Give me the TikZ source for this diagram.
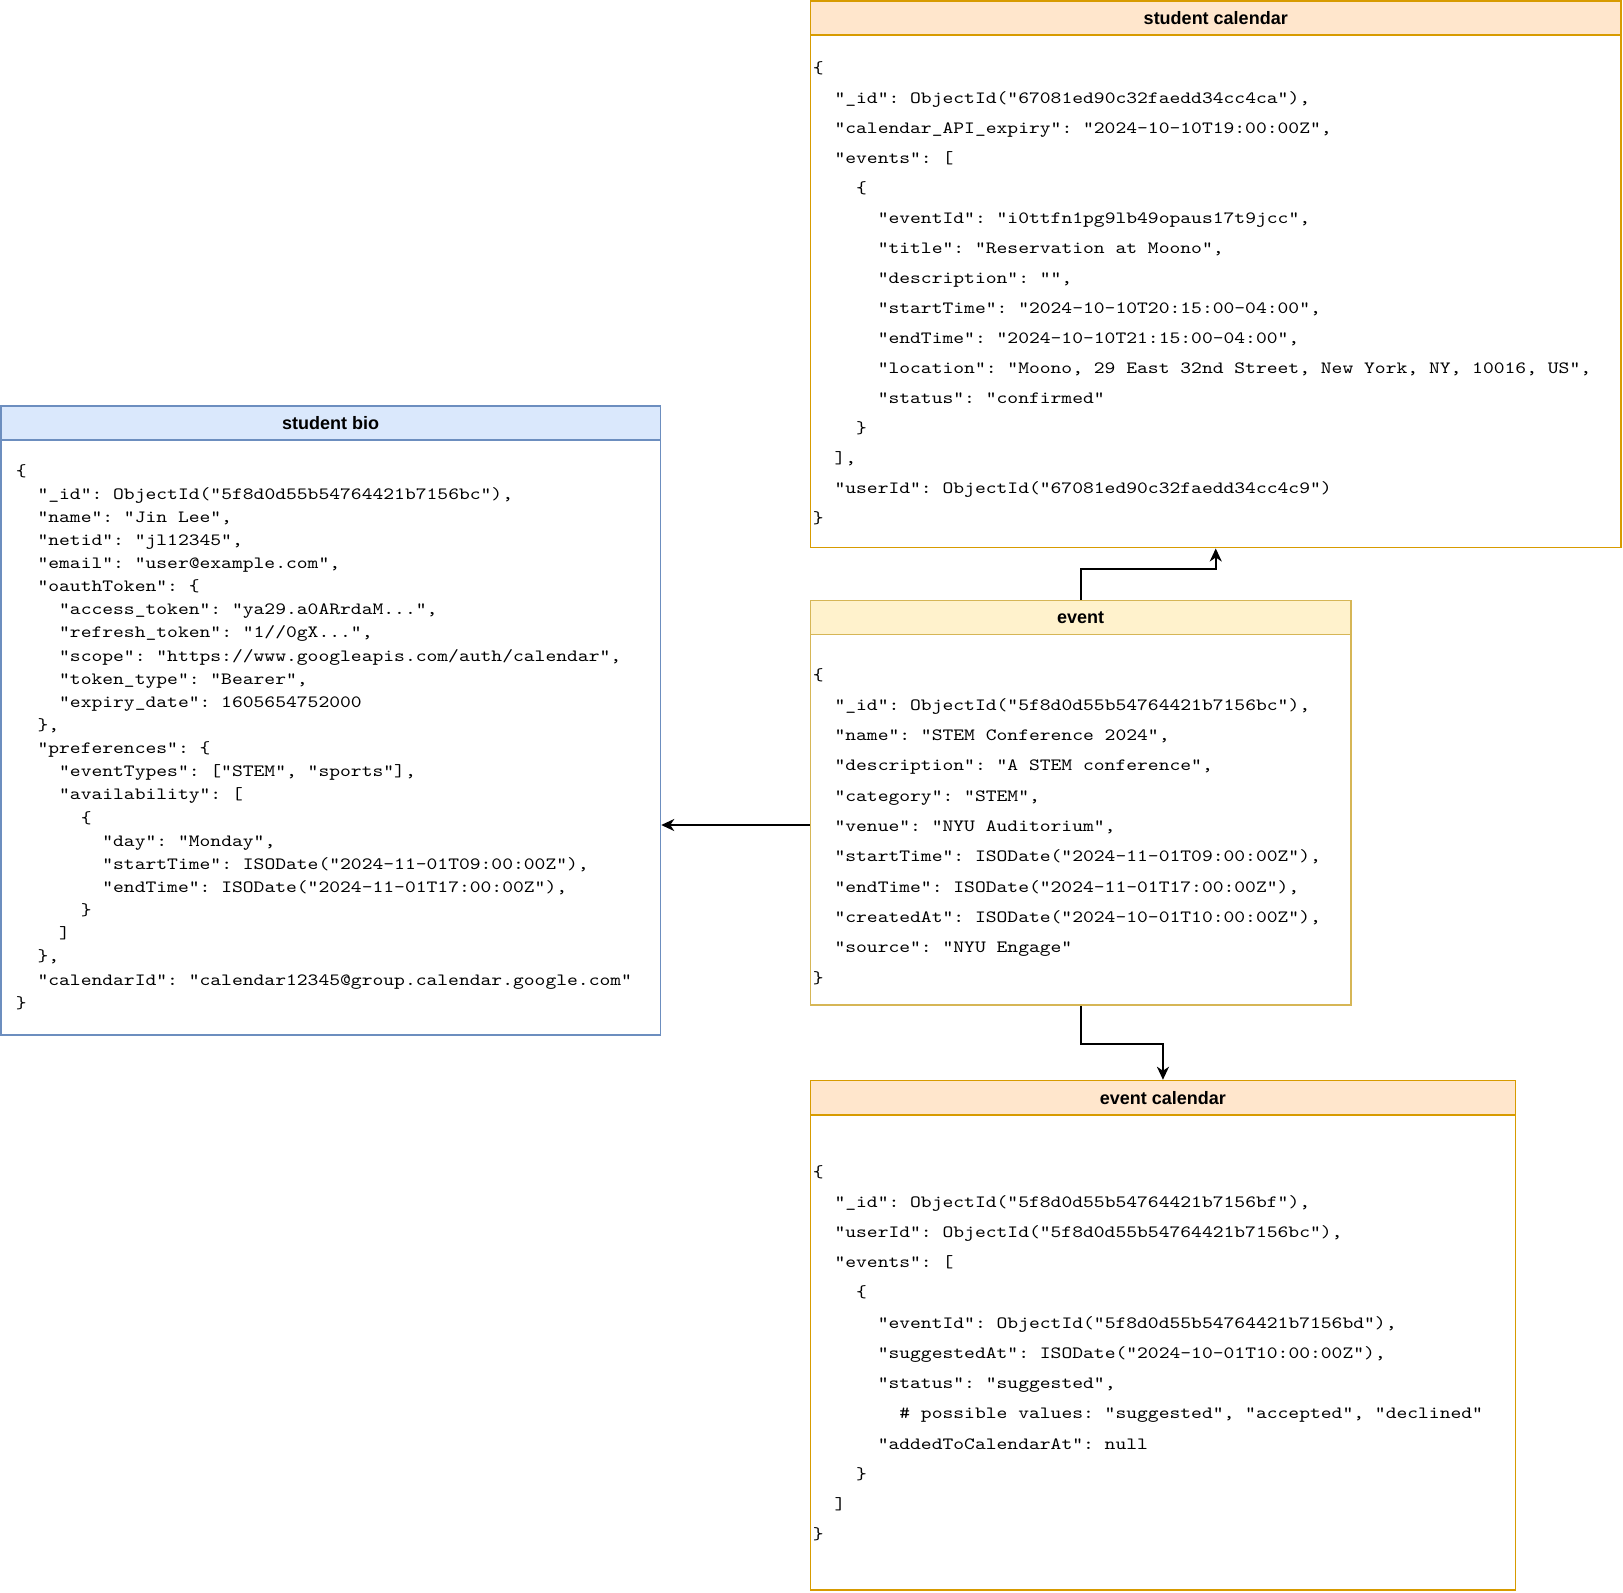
\documentclass[tikz,border=0pt]{standalone}
\usepackage{fontspec}
\setmainfont{Liberation Sans}
\newfontfamily\cmono{lmmono10-regular.otf}[FakeStretch=1.197]
\usetikzlibrary{arrows.meta}
\definecolor{orF}{HTML}{FFE6CC}
\definecolor{orD}{HTML}{D79B00}
\definecolor{ylF}{HTML}{FFF2CC}
\definecolor{ylD}{HTML}{D6B656}
\definecolor{blF}{HTML}{DAE8FC}
\definecolor{blD}{HTML}{6C8EBF}
\newcommand\tb{\phantom{00}}
\newcommand\fixsp{\setbox0\hbox{0}\spaceskip=\wd0\relax\xspaceskip=\wd0\relax}
\begin{document}
\begin{tikzpicture}[x=0.5pt,y=-0.5pt,
  box/.style={draw, line width=0.85pt, fill=white, inner sep=0pt, rectangle},
  hdr/.style={draw, line width=0.85pt, inner sep=0pt, anchor=north, minimum height=17.1pt,
    font=\bfseries\fontsize{9}{11}\selectfont},
  bioT/.style={anchor=base west, inner sep=0pt, align=left, text width=320pt,
    font=\cmono\fontsize{8.6}{11.57}\selectfont\frenchspacing},
  evT/.style={anchor=base west, inner sep=0pt, align=left, text width=265pt,
    font=\cmono\fontsize{8.6}{15.15}\selectfont\frenchspacing},
  calT/.style={anchor=base west, inner sep=0pt, align=left,
    font=\cmono\fontsize{8.6}{15.01}\selectfont\frenchspacing},
  arr/.style={line width=1pt, -{Stealth[length=6.5pt,width=6pt,inset=2pt]}}]
\useasboundingbox (0,0) rectangle (1623,1592);

% student calendar
\node[box, draw=orD, minimum width=405.25pt, minimum height=273.3pt] (scal) at (1215.75,274.3) {};
\node[hdr, draw=orD, fill=orF, minimum width=405.25pt] (scalh) at (scal.north) {student calendar};
\node[calT, text width=400pt] (scalt) at (812.5,73.5) {\fixsp
\{\\
\tb"\_id": ObjectId("67081ed90c32faedd34cc4ca"),\\
\tb"calendar\_API\_expiry": "2024-10-10T19:00:00Z",\\
\tb"events": [\\
\tb\tb\{\\
\tb\tb\tb"eventId": "i0ttfn1pg9lb49opaus17t9jcc",\\
\tb\tb\tb"title": "Reservation at Moono",\\
\tb\tb\tb"description": "",\\
\tb\tb\tb"startTime": "2024-10-10T20:15:00-04:00",\\
\tb\tb\tb"endTime": "2024-10-10T21:15:00-04:00",\\
\tb\tb\tb"location": "Moono, 29 East 32nd Street, New York, NY, 10016, US",\\
\tb\tb\tb"status": "confirmed"\\
\tb\tb\}\\
\tb],\\
\tb"userId": ObjectId("67081ed90c32faedd34cc4c9")\\
\}};

% student bio
\node[box, draw=blD, minimum width=329.7pt, minimum height=314.6pt] (bio) at (330.7,720.4) {};
\node[hdr, draw=blD, fill=blF, minimum width=329.7pt] (bioh) at (bio.north) {student bio};
\node[bioT] (biot) at (15.5,476) {\fixsp
\{\\
\tb"\_id": ObjectId("5f8d0d55b54764421b7156bc"),\\
\tb"name": "Jin Lee",\\
\tb"netid": "jl12345",\\
\tb"email": "user@example.com",\\
\tb"oauthToken": \{\\
\tb\tb"access\_token": "ya29.a0ARrdaM...",\\
\tb\tb"refresh\_token": "1//0gX...",\\
\tb\tb"scope": "https://www.googleapis.com/auth/calendar",\\
\tb\tb"token\_type": "Bearer",\\
\tb\tb"expiry\_date": 1605654752000\\
\tb\},\\
\tb"preferences": \{\\
\tb\tb"eventTypes": ["STEM", "sports"],\\
\tb\tb"availability": [\\
\tb\tb\tb\{\\
\tb\tb\tb\tb"day": "Monday",\\
\tb\tb\tb\tb"startTime": ISODate("2024-11-01T09:00:00Z"),\\
\tb\tb\tb\tb"endTime": ISODate("2024-11-01T17:00:00Z"),\\
\tb\tb\tb\}\\
\tb\tb]\\
\tb\},\\
\tb"calendarId": "calendar12345@group.calendar.google.com"\\
\}};

% event
\node[box, draw=ylD, minimum width=270.15pt, minimum height=202.3pt] (event) at (1080.65,802.7) {};
\node[hdr, draw=ylD, fill=ylF, minimum width=270.15pt] (eventh) at (event.north) {event};
\node[evT] (eventt) at (812.5,680) {\fixsp
\{\\
\tb"\_id": ObjectId("5f8d0d55b54764421b7156bc"),\\
\tb"name": "STEM Conference 2024",\\
\tb"description": "A STEM conference",\\
\tb"category": "STEM",\\
\tb"venue": "NYU Auditorium",\\
\tb"startTime": ISODate("2024-11-01T09:00:00Z"),\\
\tb"endTime": ISODate("2024-11-01T17:00:00Z"),\\
\tb"createdAt": ISODate("2024-10-01T10:00:00Z"),\\
\tb"source": "NYU Engage"\\
\}};

% event calendar
\node[box, draw=orD, minimum width=352.45pt, minimum height=254.7pt] (ecal) at (1162.95,1335.3) {};
\node[hdr, draw=orD, fill=orF, minimum width=352.45pt] (ecalh) at (ecal.north) {event calendar};
\node[calT, text width=345pt, font=\cmono\fontsize{8.6}{15.12}\selectfont\frenchspacing] (ecalt) at (812.5,1177) {\fixsp
\{\\
\tb"\_id": ObjectId("5f8d0d55b54764421b7156bf"),\\
\tb"userId": ObjectId("5f8d0d55b54764421b7156bc"),\\
\tb"events": [\\
\tb\tb\{\\
\tb\tb\tb"eventId": ObjectId("5f8d0d55b54764421b7156bd"),\\
\tb\tb\tb"suggestedAt": ISODate("2024-10-01T10:00:00Z"),\\
\tb\tb\tb"status": "suggested",\\
\tb\tb\tb\tb\# possible values: "suggested", "accepted", "declined"\\
\tb\tb\tb"addedToCalendarAt": null\\
\tb\tb\}\\
\tb]\\
\}};

% connectors
\draw[arr] (event.north) -- ++(0,-30.1) -| (scal.south);
\coordinate (evL) at (event.west |- 0,825);
\draw[arr] (evL) -- (evL -| bio.east);
\draw[arr] (event.south) -- ++(0,38.4) -| (ecalh.north);
\end{tikzpicture}
\end{document}
